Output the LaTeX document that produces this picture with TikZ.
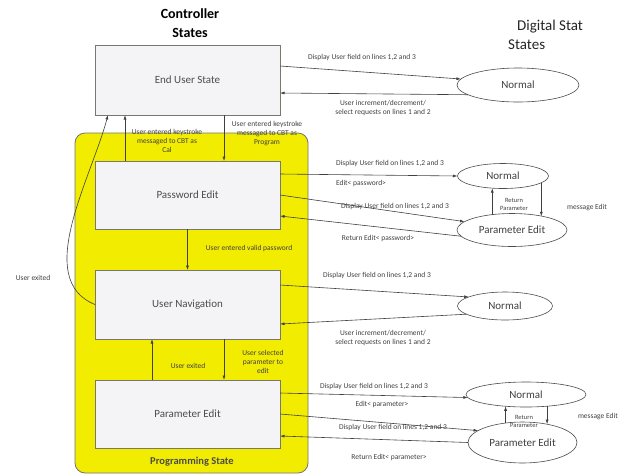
\documentclass[tikz,border=0pt]{standalone}
\usepackage{fontspec}
\setmainfont{Carlito}
\usetikzlibrary{arrows.meta,shapes.geometric}
\definecolor{progyellow}{RGB}{242,236,0}
\definecolor{boxline}{RGB}{120,120,110}
\definecolor{boxfill}{RGB}{244,244,246}
\begin{document}
\begin{tikzpicture}[x=1pt, y=-1pt,
	ctrl/.style={draw=boxline, fill=boxfill, line width=0.8pt, minimum width=185pt, minimum height=68pt, inner sep=0pt, outer sep=0pt, font=\fontsize{11}{13}\selectfont, text=black!70},
	stat/.style={ellipse, draw=black!70, fill=white, line width=0.6pt, inner sep=0pt, outer sep=0pt, font=\fontsize{11}{13}\selectfont, text=black!75},
	lbl/.style={font=\fontsize{7.5}{9}\selectfont, text=black!75, align=center, inner sep=0pt},
	tiny/.style={lbl, font=\fontsize{6.5}{8}\selectfont},
	arr/.style={draw=black!75, line width=0.6pt, -{Latex[length=4.5pt,width=3pt]}}]
	\useasboundingbox (0,0) rectangle (619,475);
	% titles
	\node[font=\bfseries\fontsize{14}{19}\selectfont, align=center] (ctitle) at (190,23.5) {Controller\\States};
	\node[font=\fontsize{15}{19}\selectfont, text=black!85, align=left, anchor=west, inner sep=0pt] (dtitle) at (508,35) {\hspace*{9pt}Digital Stat\\States};
	% programming state
	\draw[draw=black!55, fill=progyellow, line width=0.8pt, rounded corners=10pt] (75,133) rectangle (308,473);
	\node[font=\bfseries\fontsize{10.5}{12}\selectfont, text=black!70] (prog) at (192,462) {Programming State};
	% controller states
	\node[ctrl, minimum height=70pt] (eus) at (187.5,80) {End User State};
	\node[ctrl] (pwd) at (187.5,195) {Password Edit};
	\node[ctrl, minimum height=69pt] (nav) at (187.5,304.5) {User Navigation};
	\node[ctrl] (par) at (187.5,414) {Parameter Edit};
	% digital stat states
	\node[stat, minimum width=122pt, minimum height=34pt] (n1) at (518,85) {Normal};
	\node[stat, minimum width=91pt, minimum height=25pt] (n2) at (503,176) {Normal};
	\node[stat, minimum width=110pt, minimum height=33pt] (pe1) at (512,230) {Parameter Edit};
	\node[stat, minimum width=95pt, minimum height=28pt] (n3) at (505,306) {Normal};
	\node[stat, minimum width=120pt, minimum height=25pt] (n4) at (526,394.5) {Normal};
	\node[stat, minimum width=109pt, minimum height=41pt] (pe2) at (522.5,442.5) {Parameter Edit};
	% end user state
	\draw[arr] ([yshift=14pt]eus.east) -- (n1.174);
	\draw[arr] (n1.191) -- ([yshift=-13pt]eus.east);
	\draw[arr] ([xshift=30pt]pwd.north west) -- ([xshift=30pt]eus.south west);
	\draw[arr] ([xshift=129pt]eus.south west) -- ([xshift=129pt]pwd.north west);
	\draw[arr] (nav.west) to[out=158, in=255, looseness=0.9] ([xshift=13pt]eus.south west);
	% password edit
	\draw[arr] (pwd.south) -- (nav.north);
	\draw[arr] ([yshift=21pt]pwd.east) -- (n2.west);
	\draw[arr] (pwd.east) -- (pe1.170);
	\draw[arr] (pe1.187) -- ([yshift=-21pt]pwd.east);
	\draw[arr] (pe1.142) -- (pe1.142 |- n2.228);
	\draw[arr] (n2.-10) -- (n2.-10 |- pe1.24);
	% user navigation
	\draw[arr] ([yshift=19.5pt]nav.east) -- (n3.166);
	\draw[arr] (n3.192) -- ([yshift=-19.5pt]nav.east);
	\draw[arr] ([xshift=57pt]par.north west) -- ([xshift=57pt]nav.south west);
	\draw[arr] ([xshift=129pt]nav.south west) -- ([xshift=129pt]par.north west);
	% parameter edit
	\draw[arr] ([yshift=21pt]par.east) -- (n4.183);
	\draw[arr] (par.east) -- (pe2.165);
	\draw[arr] (pe2.west) -- ([yshift=-22pt]par.east);
	\draw[arr] (pe2.131) -- (pe2.131 |- n4.210);
	\draw[arr] (n4.331) -- (n4.331 |- pe2.37);
	% labels
	\node[lbl] (dsp1) at (362,57) {Display User field on lines 1,2 and 3};
	\node[lbl] (inc1) at (383,108) {User increment/decrement/\\select requests on lines 1 and 2};
	\node[lbl] (cal) at (167,141) {User entered keystroke\\messaged to CBT as\\Cal};
	\node[lbl] (prg) at (267,134) {User entered keystroke\\messaged to CBT as\\Program};
	\node[lbl] (ext1) at (33,278) {User exited};
	\node[lbl] (vpw) at (249,248) {User entered valid password};
	\node[lbl] (dsp2) at (390,163) {Display User field on lines 1,2 and 3};
	\node[lbl] (edpw) at (361,183) {Edit< password>};
	\node[lbl] (dsp3) at (395,206) {Display User field on lines 1,2 and 3};
	\node[lbl] (rtpw) at (378,238) {Return Edit< password>};
	\node[tiny] (ret1) at (514,204) {Return\\Parameter};
	\node[lbl] (msg1) at (587,208) {message Edit};
	\node[lbl] (dsp4) at (377,275) {Display User field on lines 1,2 and 3};
	\node[lbl] (inc2) at (383,338) {User increment/decrement/\\select requests on lines 1 and 2};
	\node[lbl] (ext2) at (188,366) {User exited};
	\node[lbl] (sel) at (263,362) {User selected\\parameter to\\edit};
	\node[lbl] (dsp5) at (374,386) {Display User field on lines 1,2 and 3};
	\node[lbl] (edpar) at (382,404) {Edit< parameter>};
	\node[lbl] (dsp6) at (393,427) {Display User field on lines 1,2 and 3};
	\node[lbl] (rtpar) at (389,457) {Return Edit< parameter>};
	\node[tiny] (ret2) at (524,421) {Return\\Parameter};
	\node[lbl, anchor=east] (msg2) at (618,417) {message Edit};
\end{tikzpicture}
\end{document}
